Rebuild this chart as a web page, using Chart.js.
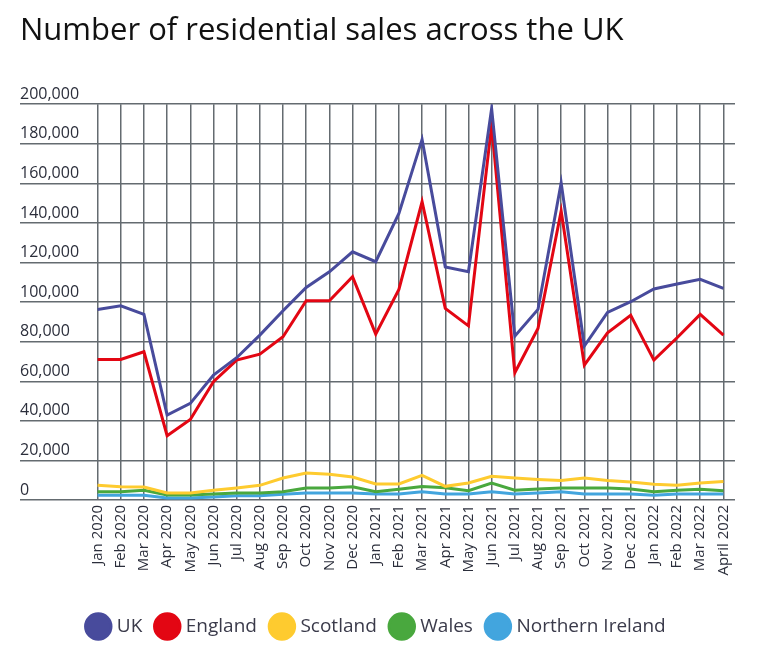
<!doctype html>
<html lang="en">

<head>
  <meta charset="utf-8" />
  <title>Number of residential sales across the UK</title>
  <script src="https://cdn.jsdelivr.net/npm/chart.js@4.4.1/dist/chart.umd.min.js"></script>
  <style>
    body {
      margin: 0;
      padding: 0;
      background: #ffffff;
    }

    .chart_box {
      position: relative;
      width: 764px;
      height: 657px;
    }
  </style>
</head>

<body>

  <div class="chart_box">
    <canvas id="salesChart"></canvas>
  </div>

  <script>
    // Months
    const months = [
      "Jan 2020", "Feb 2020", "Mar 2020", "Apr 2020", "May 2020", "Jun 2020",
      "Jul 2020", "Aug 2020", "Sep 2020", "Oct 2020", "Nov 2020", "Dec 2020",
      "Jan 2021", "Feb 2021", "Mar 2021", "Apr 2021", "May 2021", "Jun 2021",
      "Jul 2021", "Aug 2021", "Sep 2021", "Oct 2021", "Nov 2021", "Dec 2021",
      "Jan 2022", "Feb 2022", "Mar 2022", "April 2022"
    ];

    // Sales per nation
    const ukSales = [
      96300, 98100, 93800, 42900, 48800, 63100, 71900, 83300, 95600, 107400,
      115300, 125400, 120400, 144800, 182200, 117800, 115300, 197800, 82800,
      96300, 160300, 77800, 94800, 100200, 106600, 109100, 111500, 106900
    ];
    const englandSales = [
      71000, 71000, 74900, 32500, 40700, 59800, 70700, 73700, 82500, 100700,
      100700, 112800, 83800, 106400, 150700, 96800, 88000, 189400, 64300,
      86700, 146000, 68200, 84500, 93300, 70700, 82000, 93800, 83300
    ];
    const scotlandSales = [
      7400, 6700, 6600, 3500, 3500, 4900, 6100, 7400, 11100, 13600,
      13000, 11600, 8100, 8100, 12400, 6900, 8600, 12000, 11100,
      10400, 9800, 11100, 9800, 9100, 7900, 7400, 8600, 9300
    ];
    const walesSales = [
      4200, 4200, 4900, 2500, 2500, 3000, 3500, 3500, 4200, 6100,
      6100, 6700, 4200, 5400, 6800, 6200, 4700, 8600, 4900,
      5600, 6100, 6100, 6100, 5600, 4200, 4900, 5400, 4700
    ];
    const niSales = [
      2400, 2400, 2400, 1000, 1000, 1500, 2200, 2200, 2900, 3500,
      3500, 3500, 3000, 3000, 4200, 3000, 3000, 4200, 3000,
      3500, 4200, 3000, 3000, 3000, 2400, 3000, 3000, 3000
    ];

    const yTicks = [0, 20000, 40000, 60000, 80000, 100000, 120000, 140000, 160000, 180000, 200000];

    const gridColor = "#646b70";
    const textColor = "#2b2e3b";

    const makeLine = (label, data, color) => ({
      label: label,
      data: data,
      borderColor: color,
      backgroundColor: color,
      borderWidth: 3,
      pointRadius: 0,
      pointHoverRadius: 0,
      tension: 0,
    });

    let salesChart = new Chart(document.getElementById("salesChart"), {
      type: "line",
      data: {
        labels: months,
        datasets: [
          makeLine("UK", ukSales, "#484b9c"),
          makeLine("England", englandSales, "#e30613"),
          makeLine("Scotland", scotlandSales, "#fecb2f"),
          makeLine("Wales", walesSales, "#49a83e"),
          makeLine("Northern Ireland", niSales, "#42a5de"),
        ],
      },
      options: {
        responsive: true,
        maintainAspectRatio: false,
        animation: false,
        layout: {
          padding: { left: 20, right: 29, top: 0, bottom: 11 },
        },
        scales: {
          x: {
            offset: true,
            border: { display: false },
            afterFit: (scale) => {
              scale.height = 101;
            },
            grid: {
              color: gridColor,
              lineWidth: 1.5,
              offset: false,
              drawTicks: false,
            },
            ticks: {
              autoSkip: false,
              minRotation: 90,
              maxRotation: 90,
              padding: 5,
              color: textColor,
              font: { family: "'Open Sans'", size: 15 },
            },
          },
          y: {
            min: 0,
            max: 200000,
            border: { display: false },
            afterFit: (scale) => {
              scale.width = 66;
            },
            afterBuildTicks: (scale) => {
              scale.ticks = yTicks.map((v) => ({ value: v }));
            },
            grid: {
              color: gridColor,
              lineWidth: 1.5,
              tickLength: 66,
            },
            ticks: {
              crossAlign: "far",
              labelOffset: -10,
              color: textColor,
              font: { family: "'Open Sans'", size: 16 },
              callback: (v) => v.toLocaleString("en-GB"),
            },
          },
        },
        plugins: {
          tooltip: { enabled: false },
          title: {
            display: true,
            text: "Number of residential sales across the UK",
            align: "start",
            color: "#111111",
            font: { family: "'Open Sans'", size: 31, weight: "normal" },
            padding: { top: 13, bottom: 54 },
          },
          legend: {
            position: "bottom",
            labels: {
              usePointStyle: true,
              pointStyle: "circle",
              boxWidth: 18,
              boxHeight: 18,
              padding: 16,
              color: "#3a3a4a",
              font: { family: "'Open Sans'", size: 19 },
            },
          },
        },
      },
    });
  </script>

</body>

</html>
